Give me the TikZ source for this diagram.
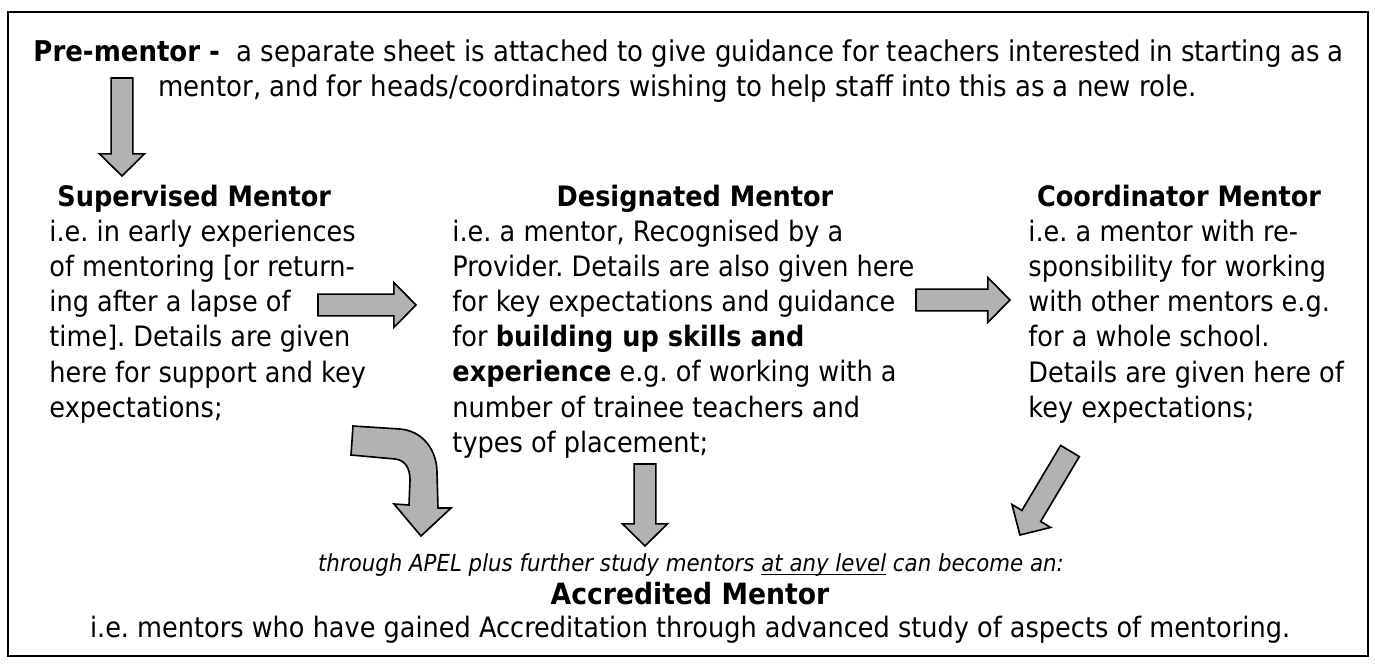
\documentclass[tikz,border=0pt]{standalone}
\usepackage{fontspec}
\setmainfont{DejaVu Sans}[FakeStretch=0.91]
\usetikzlibrary{calc}
\frenchspacing
% block arrow from tail to tip (lengths are before scale=0.15)
\newcommand{\blockarrow}[2]{%
  \coordinate (hb) at ($(#2)!63pt!(#1)$);
  \draw [blockarrow] ($(#1)!31pt!90:(#2)$) -- ($(hb)!31pt!90:(#2)$) -- ($(hb)!64pt!90:(#2)$) -- (#2) -- ($(hb)!64pt!-90:(#2)$) -- ($(hb)!31pt!-90:(#2)$) -- ($(#1)!31pt!-90:(#2)$) -- cycle;}
\begin{document}
\begin{tikzpicture}[scale=0.15] % mentor levels
\tikzstyle{every node}+=[inner sep=0pt]
\tikzstyle{body}=[anchor=base west, align=left, font=\fontsize{12}{14.94}\selectfont]
\tikzstyle{head}=[anchor=base, font=\fontsize{12}{14.94}\selectfont\bfseries]
\tikzstyle{blockarrow}=[draw=black, fill=black!30, line width=0.7pt, line join=miter]
\useasboundingbox (0,0) rectangle (137.5,-66.4);
\draw [black, line width=0.9pt] (0.8,-1.2) rectangle (136.8,-65.6);
\node [body, font=\fontsize{12.2}{14.94}\selectfont] (pre) at (3.3,-6.1) {\textbf{Pre-mentor -}\ \ a separate sheet is attached to give guidance for teachers interested in starting as a};
\node [body, font=\fontsize{12.2}{14.94}\selectfont] (preB) at (15.8,-9.6) {mentor, and for heads/coordinators wishing to help staff into this as a new role.};
\node [head, anchor=base west] (supHead) at (5.7,-20.6) {Supervised Mentor};
\node [body] (supText) at (4.9,-41.7) {i.e. in early experiences\\of mentoring [or return-\\ing after a lapse of\\time]. Details are given\\here for support and key\\expectations;};
\node [head] (desHead) at (69.5,-20.6) {Designated Mentor};
\node [body] (desText) at (45.2,-45.2) {i.e. a mentor, Recognised by a\\Provider. Details are also given here\\for key expectations and guidance\\for \textbf{building up skills and}\\\textbf{experience} e.g. of working with a\\number of trainee teachers and\\types of placement;};
\node [head] (corHead) at (117.9,-20.6) {Coordinator Mentor};
\node [body] (corText) at (102.8,-41.7) {i.e. a mentor with re-\\sponsibility for working\\with other mentors e.g.\\for a whole school.\\Details are given here of\\key expectations;};
\node [head, font=\fontsize{10}{12}\selectfont\itshape] (apel) at (69.1,-57.1) {through APEL plus further study mentors \underline{\smash{at any level}} can become an:};
\node [head, font=\fontsize{12.5}{14.94}\selectfont\bfseries] (accHead) at (69.0,-60.4) {Accredited Mentor};
\node [head, font=\fontsize{12}{14.94}\selectfont] (accText) at (69.0,-63.7) {i.e. mentors who have gained Accreditation through advanced study of aspects of mentoring.};
\coordinate (preTail) at (12.2,-7.8);
\coordinate (preTip) at (12.2,-17.6);
\coordinate (supTail) at (31.8,-30.5);
\coordinate (supTip) at (41.6,-30.5);
\coordinate (desTail) at (91.6,-30.0);
\coordinate (desTip) at (101.0,-30.0);
\coordinate (midTail) at (64.5,-46.4);
\coordinate (midTip) at (64.5,-54.6);
\coordinate (corTail) at (107.0,-45.1);
\coordinate (corTip) at (102.0,-53.5);
\blockarrow{preTail}{preTip}
\blockarrow{supTail}{supTip}
\blockarrow{desTail}{desTip}
\blockarrow{midTail}{midTip}
\blockarrow{corTail}{corTip}
\draw [blockarrow] (35.3,-42.6) -- (40.0,-42.9) .. controls (42.3,-43.1) and (43.7,-45.0) .. (43.7,-47.3) -- (43.8,-50.8) -- (45.1,-50.8) -- (42.1,-53.6) -- (39.4,-50.4) -- (40.9,-50.5) -- (41.0,-48.0) .. controls (41.0,-46.8) and (40.5,-46.0) .. (39.5,-45.9) -- (35.1,-45.5) -- cycle;
\end{tikzpicture}
\end{document}
